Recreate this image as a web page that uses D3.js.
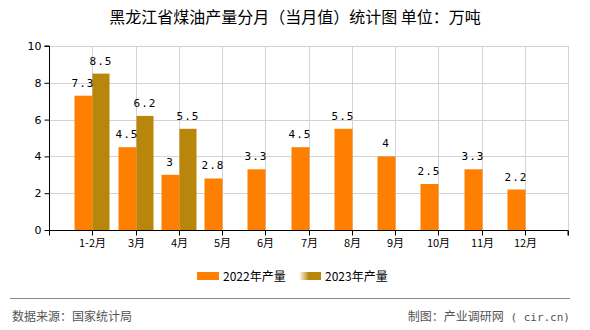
<!DOCTYPE html>
<html>
<head>
<meta charset="utf-8">
<script src="https://cdn.jsdelivr.net/npm/d3@7"></script>
<style>
  html, body { margin: 0; padding: 0; background: #fff; }
  svg { display: block; }
</style>
</head>
<body>
<svg id="chart" width="590" height="330"></svg>
<script>
// Monthly coal-oil output, Heilongjiang (10k tonnes)
const categories = ["1-2月", "3月", "4月", "5月", "6月", "7月", "8月", "9月", "10月", "11月", "12月"];
const values2022 = [7.3, 4.5, 3, 2.8, 3.3, 4.5, 5.5, 4, 2.5, 3.3, 2.2];
const values2023 = [8.5, 6.2, 5.5];
const seriesNames = ["2022年产量", "2023年产量"];
const yTicks = [0, 2, 4, 6, 8, 10];

(function () {
const colors = ["#FF8000", "#B8860B"];
const svg = d3.select("#chart");
const left = 49, right = 568, plotTop = 46, bottom = 230;

// Slots: one leading empty slot, then one per category; bars sit around slot boundaries
const x = d3.scaleLinear().domain([0, categories.length + 1]).range([left, right]);
const y = d3.scaleLinear().domain([0, 10]).range([bottom, plotTop]);
const barW = 18;

// Grid
const grid = svg.append("g").attr("stroke", "#d3d3d3").attr("stroke-width", 1);
yTicks.filter(t => t > 0).forEach(t => {
  grid.append("line").attr("x1", left).attr("x2", right)
    .attr("y1", Math.round(y(t)) + 0.5).attr("y2", Math.round(y(t)) + 0.5);
});
d3.range(1, categories.length + 2).forEach(i => {
  grid.append("line").attr("x1", Math.round(x(i)) + 0.5).attr("x2", Math.round(x(i)) + 0.5)
    .attr("y1", plotTop).attr("y2", bottom);
});

// Bars
const bars = svg.append("g");
bars.selectAll("rect.s22").data(values2022).join("rect")
  .attr("class", "s22")
  .attr("x", (d, i) => Math.round(x(i + 1)) - barW + 0.5)
  .attr("width", barW)
  .attr("y", d => y(d))
  .attr("height", d => bottom - y(d))
  .attr("fill", colors[0]);
bars.selectAll("rect.s23").data(values2023).join("rect")
  .attr("class", "s23")
  .attr("x", (d, i) => Math.round(x(i + 1)) + 0.5)
  .attr("width", barW - 1)
  .attr("y", d => y(d))
  .attr("height", d => bottom - y(d))
  .attr("fill", colors[1]);

// Value labels
const lab = svg.append("g").attr("font-family", "'DejaVu Sans Mono', monospace")
  .attr("font-size", 11).attr("fill", "#000").attr("text-anchor", "middle");
values2022.forEach((d, i) => {
  lab.append("text").attr("x", Math.round(x(i + 1)) - barW / 2).attr("y", y(d) - 9)
    .attr("letter-spacing", 1).text(d);
});
values2023.forEach((d, i) => {
  lab.append("text").attr("x", Math.round(x(i + 1)) + barW / 2).attr("y", y(d) - 9)
    .attr("letter-spacing", 1).text(d);
});

// Y axis
const yAxis = d3.axisLeft(y).tickValues(yTicks).tickSize(5).tickPadding(3);
const gy = svg.append("g").attr("transform", `translate(${left + 0.5},0)`).call(yAxis);
gy.select(".domain").attr("stroke", "#000").attr("d", `M-5,${y(10)}H0V${bottom}`);
gy.selectAll("text").attr("font-family", "'DejaVu Sans', sans-serif").attr("font-size", 11).attr("fill", "#000");

// X axis
const xAxis = d3.axisBottom(x).tickValues(d3.range(0, categories.length + 2)).tickSize(5).tickPadding(4)
  .tickFormat(i => (i >= 1 && i <= categories.length) ? categories[i - 1] : "");
const gx = svg.append("g").attr("transform", `translate(0,${bottom + 0.5})`).call(xAxis);
gx.select(".domain").attr("stroke", "#000").attr("d", `M${left},0H${right}V5`);
gx.selectAll(".tick").attr("transform", d => `translate(${Math.round(x(d)) + 0.5},0)`);
gx.selectAll("text").attr("font-family", "'Noto Sans CJK SC', sans-serif").attr("font-size", 11).attr("fill", "#000");

// Title
svg.append("text").attr("x", 295).attr("y", 23).attr("text-anchor", "middle")
  .attr("font-family", "'Noto Sans CJK SC', sans-serif").attr("font-size", 16).attr("fill", "#000")
  .text("黑龙江省煤油产量分月（当月值）统计图 单位：万吨");

// Legend
const grad = svg.append("defs").append("linearGradient").attr("id", "g23");
grad.append("stop").attr("offset", "0%").attr("stop-color", "#fff");
grad.append("stop").attr("offset", "45%").attr("stop-color", colors[1]);
grad.append("stop").attr("offset", "100%").attr("stop-color", colors[1]);
const legend = svg.append("g").attr("font-family", "'Noto Sans CJK SC', sans-serif").attr("font-size", 12);
const legX = [197, 299];
seriesNames.forEach((n, i) => {
  legend.append("rect").attr("x", legX[i]).attr("y", 272).attr("width", 22).attr("height", 8)
    .attr("fill", i === 0 ? colors[0] : "url(#g23)");
  legend.append("text").attr("x", legX[i] + 26).attr("y", 281).attr("fill", "#000").text(n);
});

// Footer
svg.append("line").attr("x1", 10).attr("x2", 570).attr("y1", 298.5).attr("y2", 298.5)
  .attr("stroke", "#888").attr("stroke-width", 1);
const foot = svg.append("g").attr("font-family", "'Noto Sans CJK SC', sans-serif").attr("font-size", 12).attr("fill", "#555");
foot.append("text").attr("x", 12).attr("y", 321).text("数据来源：国家统计局");
const credit = foot.append("text").attr("x", 570).attr("y", 321).attr("text-anchor", "end")
  .attr("xml:space", "preserve");
credit.append("tspan").text("制图：产业调研网");
credit.append("tspan").attr("font-family", "'DejaVu Sans Mono', monospace").attr("font-size", 11).text(" ( cir.cn)");
})();
</script>
</body>
</html>
